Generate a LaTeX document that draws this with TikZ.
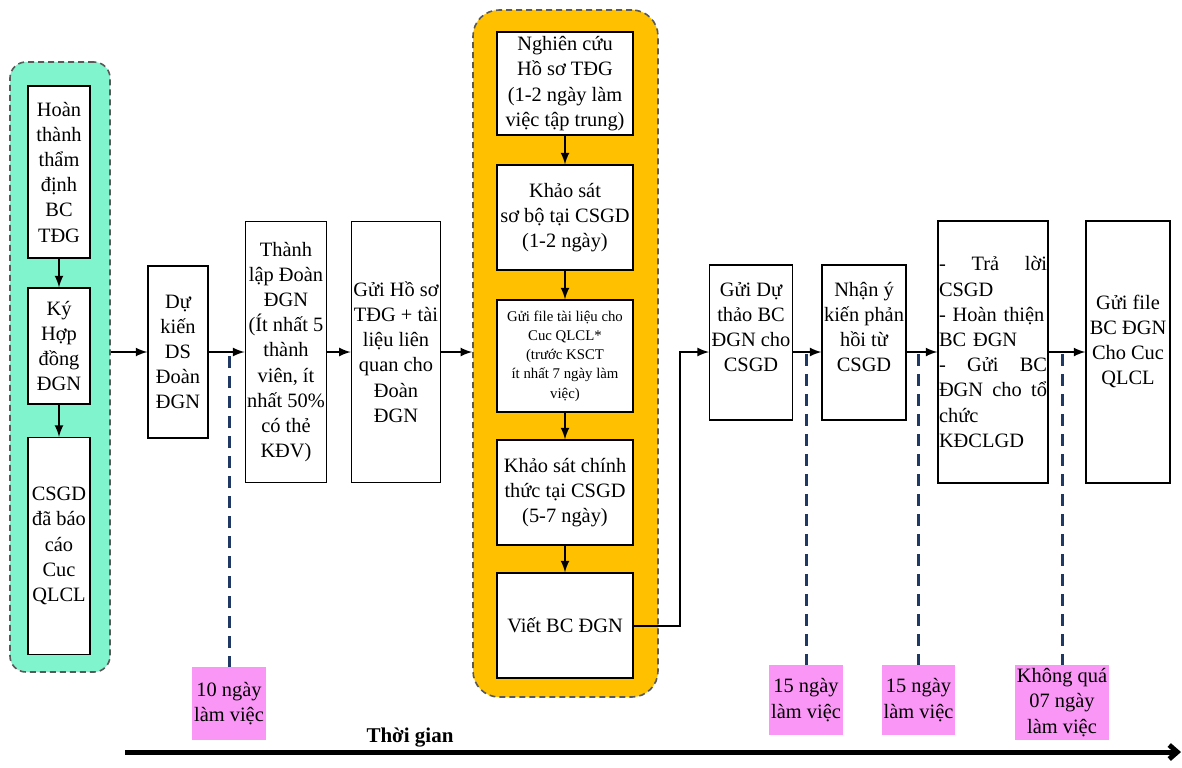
\documentclass[tikz,border=0pt]{standalone}
\usepackage{fontspec}
\setmainfont{Liberation Serif}
\usetikzlibrary{arrows}
\usetikzlibrary{arrows.meta}
\usetikzlibrary{positioning}

\definecolor{mint}{RGB}{128,244,204}
\definecolor{gold}{RGB}{255,192,0}
\definecolor{pinkbox}{RGB}{250,150,245}
\definecolor{navy}{RGB}{31,56,100}

\begin{document}
\begin{tikzpicture}[x=0.5pt,y=-0.5pt,
  box/.style={draw,fill=white,line width=0.6pt,align=center,inner sep=1pt,font=\fontsize{10.2}{12.6}\selectfont},
  grp/.style={draw=black!65,line width=0.8pt,dash pattern=on 3pt off 2pt},
  tag/.style={fill=pinkbox,align=center,inner sep=1pt,font=\fontsize{10.2}{12.6}\selectfont},
  flow/.style={line width=1pt,-latex},
  tick/.style={navy,line width=1.5pt,dash pattern=on 6pt off 4pt}]
  \useasboundingbox (0,0) rectangle (1182,767);

  % group boxes
  \node[grp,fill=mint,rounded corners=8pt,minimum width=50pt,minimum height=305pt] (g) at (60,367) {};
  \node[grp,fill=gold,rounded corners=13pt,minimum width=92.5pt,minimum height=343.5pt] (o) at (565.5,353.5) {};

  \node[box,minimum width=31pt,minimum height=86pt] (a1) at (59,172) {Hoàn\\thành\\thẩm\\định\\BC\\TĐG};
  \node[box,minimum width=31pt,minimum height=58pt] (a2) at (59,346) {Ký\\Hợp\\đồng\\ĐGN};
  \node[box,minimum width=31pt,minimum height=108.5pt] (a3) at (59,546) {CSGD\\đã báo\\cáo\\Cuc\\QLCL};

  \node[box,minimum width=30pt,minimum height=86pt] (b) at (178,352) {Dự\\kiến\\DS\\Đoàn\\ĐGN};
  \node[box,minimum width=36pt,minimum height=130.5pt] (c) at (286,352) {Thành\\lập Đoàn\\ĐGN\\(Ít nhất 5\\thành\\viên, ít\\nhất 50\%\\có thẻ\\KĐV)};
  \node[box,minimum width=40pt,minimum height=130.5pt] (d) at (396,352) {Gửi Hồ sơ\\TĐG + tài\\liệu liên\\quan cho\\Đoàn\\ĐGN};

  \node[box,minimum width=68pt,minimum height=51.5pt] (e1) at (565,83.5) {Nghiên cứu\\Hồ sơ TĐG\\(1-2 ngày làm\\việc tập trung)};
  \node[box,minimum width=68pt,minimum height=52.5pt] (e2) at (565,217.5) {Khảo sát\\sơ bộ tại CSGD\\(1-2 ngày)};
  \node[box,minimum width=68pt,minimum height=56pt,font=\fontsize{7.4}{9.6}\selectfont] (e3) at (565,356) {Gửi file tài liệu cho\\Cuc QLCL*\\(trước KSCT\\ít nhất 7 ngày làm\\việc)};
  \node[box,minimum width=68pt,minimum height=52.5pt] (e4) at (565,492.5) {Khảo sát chính\\thức tại CSGD\\(5-7 ngày)};
  \node[box,minimum width=68pt,minimum height=52.5pt] (e5) at (565,625.5) {Viết BC ĐGN};

  \node[box,minimum width=37pt,minimum height=77.5pt] (f) at (751,342.5) {Gửi Dự\\thảo BC\\ĐGN cho\\CSGD\\[3pt]};
  \node[box,minimum width=36pt,minimum height=77.5pt] (h) at (864,342.5) {Nhận ý\\kiến phản\\hồi từ\\CSGD\\[3pt]};
  \node[box,text width=54pt,inner xsep=0.5pt,align=left,minimum height=131pt] (k) at (993,352) {-\hfill Trả\hfill lời\\CSGD\\- Hoàn thiện\\BC ĐGN\\-\hfill Gửi\hfill BC\\ĐGN\hfill cho\hfill tổ\\chức\\KĐCLGD};
  \node[box,minimum width=42pt,minimum height=131pt] (m) at (1128,352) {Gửi file\\BC ĐGN\\Cho Cuc\\QLCL\\[-0.5pt]};

  \node[tag,minimum width=36pt,minimum height=36.5pt] (p1) at (229,703.5) {10 ngày\\làm việc};
  \node[tag,minimum width=35pt,minimum height=35pt] (p2) at (806,700) {15 ngày\\làm việc};
  \node[tag,minimum width=34.5pt,minimum height=35pt] (p3) at (918.5,700) {15 ngày\\làm việc};
  \node[tag,minimum width=40pt,minimum height=37.5pt] (p4) at (1062,702.5) {Không quá\\07 ngày\\làm việc};

  \coordinate (bend) at (680,352);
  \coordinate (t1) at (229,356);
  \coordinate (t2) at (806,354);
  \coordinate (t3) at (918.5,354);
  \coordinate (t4) at (1062,354);
  \coordinate (t0) at (125,752);
  \coordinate (tend) at (1181,752);

  \draw[flow](a1)--(a2);
  \draw[flow](a2)--(a3);
  \draw[flow](e1)--(e2);
  \draw[flow](e2)--(e3);
  \draw[flow](e3)--(e4);
  \draw[flow](e4)--(e5);

  \draw[flow](g.east|-b)--(b);
  \draw[flow](b)--(c);
  \draw[flow](c)--(d);
  \draw[flow](d.east)--(d.east-|o.west);
  \draw[flow](e5.east)-|(bend)--(f.west|-bend);
  \draw[flow](f.east|-bend)--(h.west|-bend);
  \draw[flow](h.east|-bend)--(k.west|-bend);
  \draw[flow](k)--(m);

  \draw[tick](t1)--(p1);
  \draw[tick](t2)--(p2);
  \draw[tick](t3)--(p3);
  \draw[tick](t4)--(p4);

  \draw[line width=2.5pt,-{Straight Barb[length=4pt,width=7pt]}](t0)--(tend);
  \node[font=\fontsize{10.5}{12}\selectfont\bfseries] (tg) at (410,738) {Thời gian};
\end{tikzpicture}
\end{document}
